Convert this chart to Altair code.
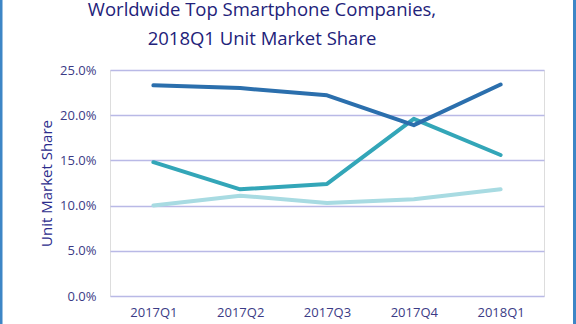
import altair as alt
import pandas as pd

quarters = ["2017Q1", "2017Q2", "2017Q3", "2017Q4", "2018Q1"]
samsung = [23.3, 23.0, 22.2, 18.9, 23.4]
apple = [14.8, 11.8, 12.4, 19.6, 15.6]
huawei = [10.0, 11.1, 10.3, 10.7, 11.8]
companies = ["Huawei", "Apple", "Samsung"]
colors = ["#a8dbe2", "#33a6b8", "#2b6fad"]

rows = []
for comp, vals in zip(companies, [huawei, apple, samsung]):
    for q, v in zip(quarters, vals):
        rows.append({"quarter": q, "company": comp, "share": v / 100})
df = pd.DataFrame(rows)

W, H = 434, 226
label_color = "#3b3b86"

base = alt.Chart(df)
lines = base.mark_line(strokeWidth=4, strokeCap="round", strokeJoin="round").encode(
    x=alt.X("quarter:N", sort=quarters, title=None,
            scale=alt.Scale(paddingOuter=0.5),
            axis=alt.Axis(labelAngle=0, domain=False, ticks=False, labelPadding=10,
                          labelFontSize=13, labelColor=label_color, labelFont="Open Sans")),
    y=alt.Y("share:Q", title="Unit Market Share",
            scale=alt.Scale(domain=[0, 0.25]),
            axis=alt.Axis(format=".1%", values=[0, 0.05, 0.1, 0.15, 0.2, 0.25],
                          domain=False, ticks=False, labelPadding=14,
                          labelFontSize=13, labelColor=label_color, labelFont="Open Sans",
                          titleFontSize=15, titleFont="Open Sans", titleColor="#2c2c8c",
                          titleFontWeight="normal", titlePadding=5,
                          grid=True, gridColor="#b9b9e6", gridWidth=1.5)),
    color=alt.Color("company:N", sort=companies,
                    scale=alt.Scale(domain=companies, range=colors), legend=None),
    order=alt.Order("company:N"),
)

frame = alt.Chart(pd.DataFrame({"s": [0]})).mark_rule(color="#3d86c6", strokeWidth=3).encode(
    x=alt.value(-109), y=alt.value(-70), y2=alt.value(H + 28)
)
frame2 = alt.Chart(pd.DataFrame({"s": [0]})).mark_rule(color="#3d86c6", strokeWidth=3).encode(
    x=alt.value(464.5), y=alt.value(-70), y2=alt.value(H + 28)
)

chart = alt.layer(lines, frame, frame2).properties(
    width=W, height=H,
    title=alt.TitleParams(
        text=["Worldwide Top Smartphone Companies,", "2018Q1 Unit Market Share"],
        font="Open Sans", fontSize=18.5, fontWeight="normal", color="#22227a",
        anchor="middle", dx=-65, offset=0, dy=65, lineHeight=29, baseline="alphabetic",
    ),
    autosize=alt.AutoSizeParams(type="none"),
    padding={"left": 110, "top": 70, "right": 32, "bottom": 28},
).configure_view(stroke=None).configure(background="white")

chart.save("out.html", embed_options={"renderer": "svg", "actions": False})
